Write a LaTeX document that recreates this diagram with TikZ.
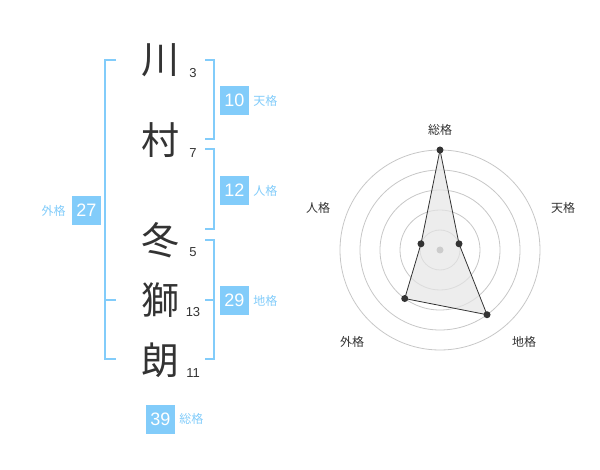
\documentclass[tikz,border=0pt]{standalone}
\usepackage{fontspec}
\setmainfont{Liberation Sans}
\newfontfamily\jp{Noto Sans CJK JP}
\usepackage{tikz}
\usetikzlibrary{positioning}
\definecolor{sky}{RGB}{130,204,250}
\definecolor{ink}{RGB}{51,51,51}
\tikzset{
  kanji/.style={font=\jp\fontsize{38}{38}\selectfont, text=ink, inner sep=0pt},
  strokes/.style={font=\fontsize{13}{13}\selectfont, text=ink, inner sep=0pt},
  badge/.style={fill=sky, text=white, minimum size=29pt, inner sep=0pt, font=\fontsize{18}{18}\selectfont},
  badgelbl/.style={text=sky, font=\jp\fontsize{12}{12}\selectfont, inner sep=0pt},
  axislbl/.style={text=ink, font=\jp\fontsize{12}{12}\selectfont, inner sep=0pt},
  dot/.style={circle, fill=ink, minimum size=7pt, inner sep=0pt},
  brace/.style={draw=sky, line width=2pt},
}

\begin{document}
\begin{tikzpicture}[x=1pt,y=-1pt]
    \useasboundingbox (0,0) rectangle (600,470);
    % set up the name
    \node[kanji] (k1) at (160,60) {川};
    \node[kanji] (k2) at (160,140) {村};
    \node[kanji] (k3) at (160,240) {冬};
    \node[kanji] (k4) at (160,300) {獅};
    \node[kanji] (k5) at (160,360) {朗};
    \node[strokes] (s1) at (193,73) {3};
    \node[strokes] (s2) at (193,153) {7};
    \node[strokes] (s3) at (193,252) {5};
    \node[strokes] (s4) at (193,312) {13};
    \node[strokes] (s5) at (193,373) {11};
    % brackets
    \draw[brace] (116,60) -- (105,60) -- (105,359) -- (116,359);
    \draw[brace] (105,300) -- (116,300);
    \draw[brace] (205,60) -- (214,60) -- (214,139) -- (205,139);
    \draw[brace] (205,149) -- (214,149) -- (214,229) -- (205,229);
    \draw[brace] (205,240) -- (214,240) -- (214,359) -- (205,359);
    \draw[brace] (205,300) -- (214,300);
    % badges and their names
    \node[badge] (ten) at (234.5,100.5) {10};
    \node[badgelbl, right=4pt of ten] (tenl) {天格};
    \node[badge] (jin) at (234.5,190.5) {12};
    \node[badgelbl, right=4pt of jin] (jinl) {人格};
    \node[badge] (chi) at (234.5,300.5) {29};
    \node[badgelbl, right=4pt of chi] (chil) {地格};
    \node[badge] (gai) at (86.5,210.5) {27};
    \node[badgelbl, left=6pt of gai] (gail) {外格};
    \node[badge] (sou) at (160.5,419) {39};
    \node[badgelbl, right=4pt of sou] (soul) {総格};
    % radar chart
    \begin{scope}[shift={(440,250)}]
        \foreach \r in {20,40,60,80,100}
            \draw[black!22, line width=0.8pt] (0,0) circle[radius=\r pt];
        \coordinate (p1) at (90:100pt);
        \coordinate (p2) at (18:20pt);
        \coordinate (p3) at (-54:80pt);
        \coordinate (p4) at (-126:60pt);
        \coordinate (p5) at (162:20pt);
        \fill[black!10, opacity=0.7] (p1) -- (p2) -- (p3) -- (p4) -- (p5) -- cycle;
        \draw[ink, line width=0.8pt] (p1) -- (p2) -- (p3) -- (p4) -- (p5) -- cycle;
        \fill[black!20] (0,0) circle[radius=3.5pt];
        \foreach \p in {p1,p2,p3,p4,p5}
            \node[dot] at (\p) {};
    \end{scope}
    \node[axislbl] (ax1) at (440,130) {総格};
    \node[axislbl] (ax2) at (563,208) {天格};
    \node[axislbl] (ax3) at (524,342) {地格};
    \node[axislbl] (ax4) at (352,342) {外格};
    \node[axislbl] (ax5) at (318,208) {人格};
\end{tikzpicture}
\end{document}
